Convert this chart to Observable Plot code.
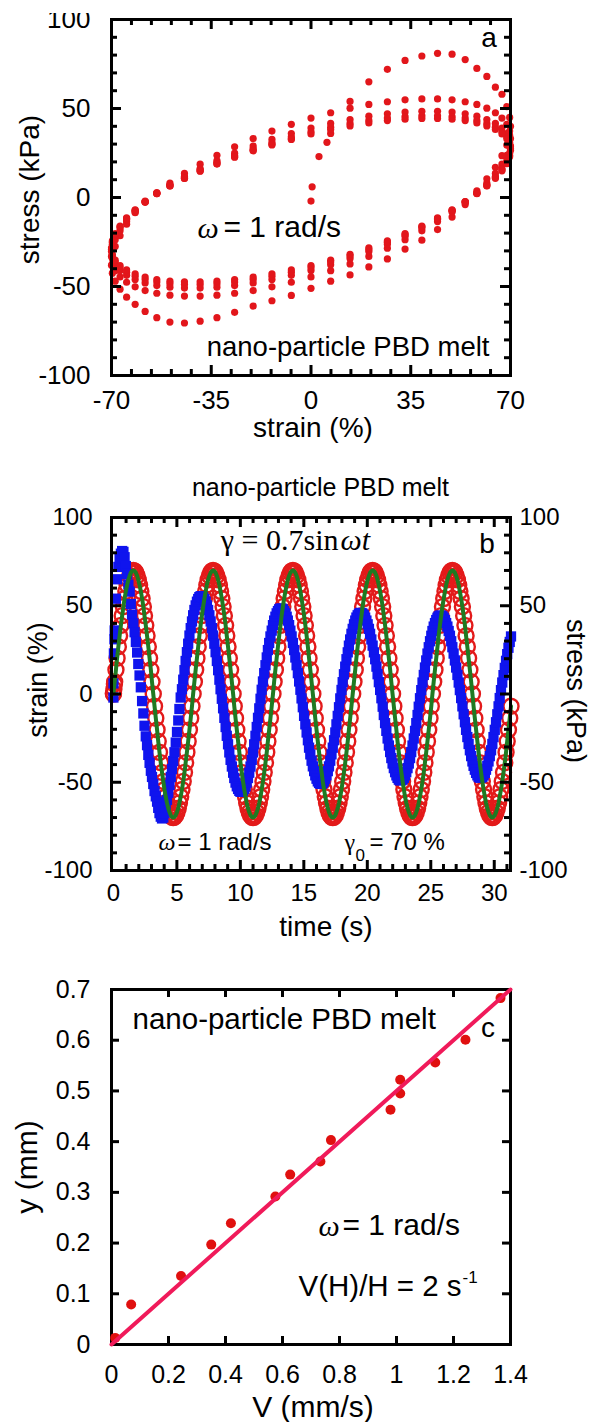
<!DOCTYPE html>
<html><head><meta charset="utf-8">
<script src="https://cdn.jsdelivr.net/npm/d3@7"></script>
<script src="https://cdn.jsdelivr.net/npm/@observablehq/plot@0.6"></script>
<style>
body{margin:0;background:#fff;width:590px;height:1422px;position:relative;overflow:hidden}
.panel{position:absolute;left:0}
</style></head><body>
<div id="pa" class="panel" style="top:13px"></div>
<div id="pb" class="panel" style="top:460px"></div>
<div id="pc" class="panel" style="top:955px"></div>
<script>
// ---------- DATA: panels a & b (time series of strain and stress) ----------
const time1 = [0,0.005,0.04,0.08,0.10,0.20,0.29,0.39,0.49,0.59,0.69,0.79,0.88,0.98,1.08,1.18,1.28,1.37,1.47,1.57,1.67,1.77,1.87,1.96,2.06,2.16,2.26,2.36,2.45,2.55,2.65,2.75,2.85,2.95,3.04,3.14,3.24,3.34,3.44,3.53,3.63,3.73,3.83,3.93,4.02,4.12,4.22,4.32,4.42,4.52,4.61,4.71,4.81,4.91,5.01,5.11,5.20,5.30,5.40,5.50,5.60,5.69,5.79,5.89,5.99,6.09,6.19];
const strain1 = [0,0.4,2.8,5.6,6.9,13.7,20.3,26.8,33.0,38.9,44.4,49.5,54.1,58.2,61.7,64.7,67.0,68.7,69.7,70.0,69.7,68.7,67.0,64.7,61.7,58.2,54.1,49.5,44.4,38.9,33.0,26.8,20.3,13.7,6.9,0,-6.9,-13.7,-20.3,-26.8,-33.0,-38.9,-44.4,-49.5,-54.1,-58.2,-61.7,-64.7,-67.0,-68.7,-69.7,-70.0,-69.7,-68.7,-67.0,-64.7,-61.7,-58.2,-54.1,-49.5,-44.4,-38.9,-33.0,-26.8,-20.3,-13.7,-6.9];
const stress1 = [-2,6,23,31,36,54,65,72,77,79.5,81,80.5,77.5,72.5,68,62,58,51,45,40,35,29.5,23.5,17,10.5,3.8,-4,-11,-18,-24,-29,-34.5,-39,-43.5,-47,-51,-55,-58,-61,-64.5,-67.5,-69.5,-70.5,-70,-67.5,-64,-60,-56,-51.5,-47,-42.5,-38,-33,-27.5,-21.5,-15,-8.5,-2,2.7,8.1,13.5,18.7,23.7,28.5,33.1,37.3,41.1];

const time2 = [6.28,6.38,6.48,6.58,6.68,6.77,6.87,6.97,7.07,7.17,7.27,7.36,7.46,7.56,7.66,7.76,7.85,7.95,8.05,8.15,8.25,8.35,8.44,8.54,8.64,8.74,8.84,8.93,9.03,9.13,9.23,9.33,9.43,9.52,9.62,9.72,9.82,9.92,10.01,10.11,10.21,10.31,10.41,10.50,10.60,10.70,10.80,10.90,11.00,11.09,11.19,11.29,11.39,11.49,11.59,11.68,11.78,11.88,11.98,12.08,12.17,12.27,12.37,12.47];
const strain2 = [0,6.9,13.7,20.3,26.8,33.0,38.9,44.4,49.5,54.1,58.2,61.7,64.7,67.0,68.7,69.7,70.0,69.7,68.7,67.0,64.7,61.7,58.2,54.1,49.5,44.4,38.9,33.0,26.8,20.3,13.7,6.9,0,-6.9,-13.7,-20.3,-26.8,-33.0,-38.9,-44.4,-49.5,-54.1,-58.2,-61.7,-64.7,-67.0,-68.7,-69.7,-70.0,-69.7,-68.7,-67.0,-64.7,-61.7,-58.2,-54.1,-49.5,-44.4,-38.9,-33.0,-26.8,-20.3,-13.7,-6.9];
const stress2 = [44.6,47.6,50.2,52.3,53.8,54.9,55.4,55.4,54.9,53.8,52.3,50.2,47.6,44.6,41.1,37.3,33.1,28.5,23.7,18.7,13.5,8.1,2.7,-2.7,-8.1,-13.5,-18.7,-23.7,-28.5,-33.1,-37.3,-41.1,-44.6,-47.6,-50.2,-52.3,-53.8,-54.9,-55.4,-55.4,-54.9,-53.8,-52.3,-50.2,-47.6,-44.6,-41.1,-37.3,-33.1,-28.5,-23.7,-18.7,-13.5,-8.1,-2.7,2.4,7.1,11.8,16.3,20.7,24.9,28.9,32.6,35.9];

const time3 = [12.57,12.66,12.76,12.86,12.96,13.06,13.16,13.25,13.35,13.45,13.55,13.65,13.74,13.84,13.94,14.04,14.14,14.24,14.33,14.43,14.53,14.63,14.73,14.82,14.92,15.02,15.12,15.22,15.32,15.41,15.51,15.61,15.71,15.81,15.90,16.00,16.10,16.20,16.30,16.40,16.49,16.59,16.69,16.79,16.89,16.98,17.08,17.18,17.28,17.38,17.48,17.57,17.67,17.77,17.87,17.97,18.06,18.16,18.26,18.36,18.46,18.55,18.65,18.75];
const strain3 = [0,6.9,13.7,20.3,26.8,33.0,38.9,44.4,49.5,54.1,58.2,61.7,64.7,67.0,68.7,69.7,70.0,69.7,68.7,67.0,64.7,61.7,58.2,54.1,49.5,44.4,38.9,33.0,26.8,20.3,13.7,6.9,0,-6.9,-13.7,-20.3,-26.8,-33.0,-38.9,-44.4,-49.5,-54.1,-58.2,-61.7,-64.7,-67.0,-68.7,-69.7,-70.0,-69.7,-68.7,-67.0,-64.7,-61.7,-58.2,-54.1,-49.5,-44.4,-38.9,-33.0,-26.8,-20.3,-13.7,-6.9];
const stress3 = [39.0,41.6,43.8,45.7,47.0,48.0,48.4,48.4,48.0,47.0,45.7,43.8,41.6,39.0,35.9,32.6,28.9,24.9,20.7,16.3,11.8,7.1,2.4,-2.5,-7.5,-12.4,-17.2,-21.8,-26.2,-30.4,-34.2,-37.8,-41.0,-43.7,-46.1,-48.0,-49.5,-50.4,-50.9,-50.9,-50.4,-49.5,-48.0,-46.1,-43.7,-41.0,-37.8,-34.2,-30.4,-26.2,-21.8,-17.2,-12.4,-7.5,-2.5,2.3,6.7,11.2,15.5,19.7,23.6,27.4,30.9,34.1];

const time4 = [18.85,18.95,19.05,19.14,19.24,19.34,19.44,19.54,19.63,19.73,19.83,19.93,20.03,20.13,20.22,20.32,20.42,20.52,20.62,20.72,20.81,20.91,21.01,21.11,21.21,21.30,21.40,21.50,21.60,21.70,21.80,21.89,21.99,22.09,22.19,22.29,22.38,22.48,22.58,22.68,22.78,22.88,22.97,23.07,23.17,23.27,23.37,23.46,23.56,23.66,23.76,23.86,23.96,24.05,24.15,24.25,24.35,24.45,24.54,24.64,24.74,24.84,24.94,25.04];
const strain4 = [0,6.9,13.7,20.3,26.8,33.0,38.9,44.4,49.5,54.1,58.2,61.7,64.7,67.0,68.7,69.7,70.0,69.7,68.7,67.0,64.7,61.7,58.2,54.1,49.5,44.4,38.9,33.0,26.8,20.3,13.7,6.9,0,-6.9,-13.7,-20.3,-26.8,-33.0,-38.9,-44.4,-49.5,-54.1,-58.2,-61.7,-64.7,-67.0,-68.7,-69.7,-70.0,-69.7,-68.7,-67.0,-64.7,-61.7,-58.2,-54.1,-49.5,-44.4,-38.9,-33.0,-26.8,-20.3,-13.7,-6.9];
const stress4 = [36.9,39.5,41.6,43.3,44.6,45.5,45.9,45.9,45.5,44.6,43.3,41.6,39.5,36.9,34.1,30.9,27.4,23.6,19.7,15.5,11.2,6.7,2.3,-2.4,-7.2,-11.9,-16.5,-20.9,-25.2,-29.2,-32.9,-36.3,-39.4,-42.0,-44.3,-46.1,-47.5,-48.5,-48.9,-48.9,-48.5,-47.5,-46.1,-44.3,-42.0,-39.4,-36.3,-32.9,-29.2,-25.2,-20.9,-16.5,-11.9,-7.2,-2.4,2.2,6.5,10.8,15.0,19.0,22.9,26.5,29.9,33.0];

const time5 = [25.13,25.23,25.33,25.43,25.53,25.62,25.72,25.82,25.92,26.02,26.12,26.21,26.31,26.41,26.51,26.61,26.70,26.80,26.90,27.00,27.10,27.20,27.29,27.39,27.49,27.59,27.69,27.78,27.88,27.98,28.08,28.18,28.28,28.37,28.47,28.57,28.67,28.77,28.86,28.96,29.06,29.16,29.26,29.35,29.45,29.55,29.65,29.75,29.85,29.94,30.04,30.14,30.24,30.34,30.43,30.53,30.63,30.73,30.83,30.93,31.02,31.12,31.22,31.32];
const strain5 = [0,6.9,13.7,20.3,26.8,33.0,38.9,44.4,49.5,54.1,58.2,61.7,64.7,67.0,68.7,69.7,70.0,69.7,68.7,67.0,64.7,61.7,58.2,54.1,49.5,44.4,38.9,33.0,26.8,20.3,13.7,6.9,0,-6.9,-13.7,-20.3,-26.8,-33.0,-38.9,-44.4,-49.5,-54.1,-58.2,-61.7,-64.7,-67.0,-68.7,-69.7,-70.0,-69.7,-68.7,-67.0,-64.7,-61.7,-58.2,-54.1,-49.5,-44.4,-38.9,-33.0,-26.8,-20.3,-13.7,-6.9];
const stress5 = [35.7,38.2,40.2,41.9,43.2,44.0,44.4,44.4,44.0,43.2,41.9,40.2,38.2,35.7,33.0,29.9,26.5,22.9,19.0,15.0,10.8,6.5,2.2,-2.3,-7.0,-11.5,-16.0,-20.3,-24.4,-28.3,-31.9,-35.2,-38.2,-40.7,-42.9,-44.7,-46.1,-47.0,-47.4,-47.4,-47.0,-46.1,-44.7,-42.9,-40.7,-38.2,-35.2,-31.9,-28.3,-24.4,-20.3,-16.0,-11.5,-7.0,-2.3,2.2,6.5,10.7,14.8,18.8,22.6,26.2,29.5,32.6];

// ---------- DATA: panel c ----------
const velocity = [0.013,0.069,0.244,0.350,0.419,0.575,0.627,0.733,0.770,0.979,1.013,1.013,1.136,1.242,1.365];
const yDisp    = [0.013,0.079,0.135,0.197,0.239,0.292,0.335,0.361,0.403,0.463,0.495,0.522,0.556,0.601,0.683];
const fitV = [0, 1.4];
const fitY = [0, 0.7];

// ---------- ticks ----------
const aXTicks = [-70,-35,0,35,70];
const aYTicks = [-100,-50,0,50,100];
const aXMinor = [-63,-56,-49,-42,-28,-21,-14,-7,7,14,21,28,42,49,56,63];
const aYMinor = [-90,-80,-70,-60,-40,-30,-20,-10,10,20,30,40,60,70,80,90];
const bXTicks = [0,5,10,15,20,25,30];
const bXMinor = [1,2,3,4,6,7,8,9,11,12,13,14,16,17,18,19,21,22,23,24,26,27,28,29,31];
const bYTicks = [-100,-50,0,50,100];
const bYMinor = [-90,-80,-70,-60,-40,-30,-20,-10,10,20,30,40,60,70,80,90];
const bYRightTicks = [100,50,-50,-100];
const cXTicks = [0,0.2,0.4,0.6,0.8,1,1.2,1.4];
const cXLabels = ["0","0.2","0.4","0.6","0.8","1","1.2","1.4"];
const cYTicks = [0,0.1,0.2,0.3,0.4,0.5,0.6,0.7];
const cYLabels = ["0","0.1","0.2","0.3","0.4","0.5","0.6","0.7"];

// ---------- build rows ----------
const T = [...time1,...time2,...time3,...time4,...time5];
const S = [...strain1,...strain2,...strain3,...strain4,...strain5];
const P = [...stress1,...stress2,...stress3,...stress4,...stress5];
const n = Math.min(T.length, S.length, P.length);
const rows = d3.range(n).map(i => ({t: T[i], strain: S[i], stress: P[i]}));
const cRows = velocity.map((v,i) => ({v, y: yDisp[i]}));
const fitRows = fitV.map((v,i) => ({v, y: fitY[i]}));

const SANS = "Liberation Sans, Arial, Helvetica, sans-serif";
const SERIF = "Liberation Serif, Times New Roman, serif";
const W = 590, ML = 111, MR = 80;
const FW = W - ML - MR;

// inward ticks on all four sides (lengths in pixels, converted to data units)
function tickMarks(xs, ys, xd, yd, FH) {
  const kx = (xd[1] - xd[0]) / FW, ky = (yd[1] - yd[0]) / FH;
  const st = {stroke: "black", strokeWidth: 3, strokeLinecap: "butt"};
  const m = [];
  xs.forEach(([vals, l]) => {
    m.push(Plot.ruleX(vals, {x: d => d, y1: yd[0], y2: yd[0] + l * ky, ...st}));
    m.push(Plot.ruleX(vals, {x: d => d, y1: yd[1] - l * ky, y2: yd[1], ...st}));
  });
  ys.forEach(([vals, l]) => {
    m.push(Plot.ruleY(vals, {y: d => d, x1: xd[0], x2: xd[0] + l * kx, ...st}));
    m.push(Plot.ruleY(vals, {y: d => d, x1: xd[1] - l * kx, x2: xd[1], ...st}));
  });
  return m;
}
function note(str, o) {
  return Plot.text([str], Object.assign({text: d => d, fontFamily: SANS, fill: "#000", textAnchor: "middle", lineAnchor: "middle"}, o));
}
const TXT = {fontFamily: SANS, lineAnchor: "middle", fill: "#000"};

// ---------- Panel a ----------
{
  const H = 442, mt = 6, mb = 80, FH = H - mt - mb;
  const xd = [-70, 70], yd = [-100, 100];
  const chart = Plot.plot({
    width: W, height: H, marginLeft: ML, marginRight: MR, marginTop: mt, marginBottom: mb,
    x: {domain: xd, axis: null},
    y: {domain: yd, axis: null},
    style: {fontFamily: SANS, background: "white", overflow: "hidden"},
    marks: [
      Plot.dot(rows, {x: "strain", y: "stress", r: 3.6, fill: "#e2161b", stroke: null}),
      ...tickMarks([[aXMinor, 6], [[-35, 0, 35], 10]], [[aYMinor, 6], [[-50, 0, 50], 10]], xd, yd, FH),
      Plot.frame({stroke: "#000", strokeWidth: 3}),
      Plot.text(aXTicks, {x: d => d, text: d => String(d), frameAnchor: "bottom", dy: 25, textAnchor: "middle", fontSize: 26, ...TXT}),
      Plot.text(aYTicks, {y: d => d, text: d => String(d), frameAnchor: "left", dx: -21, textAnchor: "end", fontSize: 26, ...TXT}),
      note("strain (%)", {frameAnchor: "bottom", dy: 53, dx: 2, fontSize: 28}),
      note("stress (kPa)", {frameAnchor: "left", dx: -81, dy: -8, rotate: -90, fontSize: 28}),
      note("a", {frameAnchor: "top-left", dx: 377.5, dy: 19, fontSize: 28}),
      note("\u03c9", {frameAnchor: "top-left", dx: 86, dy: 209, fontSize: 30, fontFamily: SERIF, fontStyle: "italic", textAnchor: "start"}),
      note("= 1 rad/s", {frameAnchor: "top-left", dx: 112, dy: 208, fontSize: 30, textAnchor: "start"}),
      note("nano-particle PBD melt", {frameAnchor: "top-left", dx: 378, dy: 327.5, fontSize: 27.5, textAnchor: "end"})
    ]
  });
  document.getElementById("pa").appendChild(chart);
}

// ---------- Panel b ----------
{
  const H = 490, mt = 57, mb = 80, FH = H - mt - mb;
  const xd = [-0.15, 31.28], yd = [-100, 100];
  const chart = Plot.plot({
    width: W, height: H, marginLeft: ML, marginRight: MR, marginTop: mt, marginBottom: mb,
    x: {domain: xd, axis: null},
    y: {domain: yd, axis: null},
    style: {fontFamily: SANS, background: "white", overflow: "hidden"},
    marks: [
      Plot.dot(rows, {x: "t", y: "strain", r: 7.5, fill: "none", stroke: "#e31a1a", strokeWidth: 2.4}),
      Plot.dot(rows, {x: "t", y: "stress", r: 5.8, symbol: "square", fill: "#0f14ee", stroke: null}),
      Plot.line(rows, {x: "t", y: "strain", stroke: "#1f7a22", strokeWidth: 4}),
      ...tickMarks([[bXMinor, 6], [[5, 10, 15, 20, 25, 30], 10]], [[bYMinor, 6], [[-50, 0, 50], 10]], xd, yd, FH),
      Plot.frame({stroke: "#000", strokeWidth: 3}),
      Plot.text(bXTicks, {x: d => d, text: d => String(d), frameAnchor: "bottom", dy: 23, textAnchor: "middle", fontSize: 24, ...TXT}),
      Plot.text(bYTicks, {y: d => d, text: d => String(d), frameAnchor: "left", dx: -19, textAnchor: "end", fontSize: 24, ...TXT}),
      Plot.text(bYRightTicks, {y: d => d, text: d => String(d), frameAnchor: "right", dx: 9, textAnchor: "start", fontSize: 24, ...TXT}),
      note("time (s)", {frameAnchor: "bottom", dy: 57, dx: 15, fontSize: 28}),
      note("strain (%)", {frameAnchor: "left", dx: -73, dy: -14, rotate: -90, fontSize: 27}),
      note("stress (kPa)", {frameAnchor: "right", dx: 65, dy: -3, rotate: 90, fontSize: 27}),
      note("nano-particle PBD melt", {frameAnchor: "top-left", dx: 209, dy: -29.5, fontSize: 25}),
      note("\u03b3 = 0.7sin", {frameAnchor: "top-left", dx: 227, dy: 23, fontSize: 30, fontFamily: SERIF, textAnchor: "end"}),
      note("\u03c9t", {frameAnchor: "top-left", dx: 229, dy: 23, fontSize: 30, fontFamily: SERIF, fontStyle: "italic", textAnchor: "start"}),
      note("b", {frameAnchor: "top-left", dx: 375.5, dy: 27, fontSize: 28}),
      note("\u03c9", {frameAnchor: "top-left", dx: 47, dy: 325, fontSize: 24, fontFamily: SERIF, fontStyle: "italic", textAnchor: "start"}),
      note("= 1 rad/s", {frameAnchor: "top-left", dx: 66, dy: 324.5, fontSize: 24, textAnchor: "start"}),
      note("\u03b3", {frameAnchor: "top-left", dx: 233, dy: 325, fontSize: 24, fontFamily: SERIF, textAnchor: "start"}),
      note("0", {frameAnchor: "top-left", dx: 244, dy: 338, fontSize: 17, textAnchor: "start"}),
      note("= 70 %", {frameAnchor: "top-left", dx: 258, dy: 324.5, fontSize: 24, textAnchor: "start"})
    ]
  });
  document.getElementById("pb").appendChild(chart);
}

// ---------- Panel c ----------
{
  const H = 467, mt = 34, mb = 78, FH = H - mt - mb;
  const xd = [0, 1.4], yd = [0, 0.7];
  const chart = Plot.plot({
    width: W, height: H, marginLeft: ML, marginRight: MR, marginTop: mt, marginBottom: mb,
    x: {domain: xd, axis: null},
    y: {domain: yd, axis: null},
    style: {fontFamily: SANS, background: "white", overflow: "hidden"},
    marks: [
      ...tickMarks([[cXTicks.slice(1, -1), 8]], [[cYTicks.slice(1, -1), 8]], xd, yd, FH),
      Plot.frame({stroke: "#000", strokeWidth: 3}),
      Plot.dot(cRows, {x: "v", y: "y", r: 5, fill: "#e0100f", stroke: null}),
      Plot.line(fitRows, {x: "v", y: "y", stroke: "#f01a5a", strokeWidth: 4}),
      Plot.text(cXTicks, {x: d => d, text: (d, i) => cXLabels[i], frameAnchor: "bottom", dy: 30, textAnchor: "middle", fontSize: 25, ...TXT}),
      Plot.text(cYTicks, {y: d => d, text: (d, i) => cYLabels[i], frameAnchor: "left", dx: -21, textAnchor: "end", fontSize: 25, ...TXT}),
      note("V (mm/s)", {frameAnchor: "bottom", dy: 63, dx: 2, fontSize: 30}),
      note("y (mm)", {frameAnchor: "left", dx: -84.5, rotate: -90, fontSize: 30}),
      note("nano-particle PBD melt", {frameAnchor: "top-left", dx: 21, dy: 30, fontSize: 29.5, textAnchor: "start"}),
      note("c", {frameAnchor: "top-left", dx: 376.5, dy: 38.8, fontSize: 28}),
      note("\u03c9", {frameAnchor: "top-left", dx: 207, dy: 237, fontSize: 30, fontFamily: SERIF, fontStyle: "italic", textAnchor: "start"}),
      note("= 1 rad/s", {frameAnchor: "top-left", dx: 231, dy: 236, fontSize: 30, textAnchor: "start"}),
      note("V(H)/H = 2 s", {frameAnchor: "top-left", dx: 187, dy: 297, fontSize: 29.5, textAnchor: "start"}),
      note("-1", {frameAnchor: "top-left", dx: 351, dy: 288, fontSize: 17, textAnchor: "start"})
    ]
  });
  document.getElementById("pc").appendChild(chart);
}
</script></body></html>
